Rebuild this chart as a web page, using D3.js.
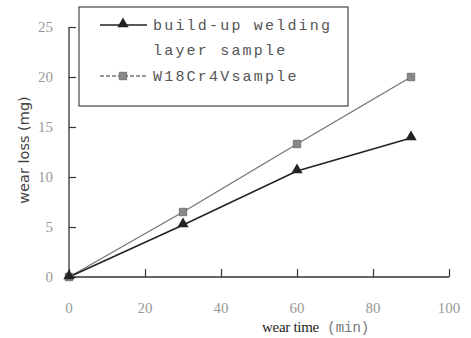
<!DOCTYPE html>
<html>
<head>
<meta charset="utf-8">
<script src="https://cdn.jsdelivr.net/npm/d3@7"></script>
<style>
  body { margin: 0; background: #fff; }
</style>
</head>
<body>
<div id="svg-container"></div>
<script>
// data
const times = [0, 30, 60, 90];
const weldingLoss = [0, 5.2, 10.6, 13.9];
const w18Loss = [0, 6.5, 13.3, 20.0];
const xTicks = [0, 20, 40, 60, 80, 100];
const yTicks = [0, 5, 10, 15, 20, 25];
const yTickLabels = ["0", "5", "10", "15", "20", "25"];
const seriesNames = ["build-up welding", "layer sample", "W18Cr4Vsample"];

const width = 471, height = 338;

const svg = d3.select("#svg-container").append("svg")
  .attr("width", width)
  .attr("height", height);

// scales
const x = d3.scaleLinear().domain([0, 100]).range([69, 449]);
const y = d3.scaleLinear().domain([0, 25]).range([277, 27]);

// x axis, ticks point inward
const xAxis = svg.append("g")
  .attr("transform", `translate(0,${y(0)})`)
  .call(d3.axisTop(x).tickValues(xTicks).tickSize(8).tickFormat(""));
xAxis.select(".domain").attr("stroke", "#333").attr("stroke-width", 1.3).attr("d", `M${x(0)},0H${x(100)}`);
xAxis.selectAll(".tick line").attr("stroke", "#333").attr("stroke-width", 1.2);

// y axis, ticks point inward
const yAxis = svg.append("g")
  .attr("transform", `translate(${x(0)},0)`)
  .call(d3.axisRight(y).tickValues(yTicks).tickSize(7).tickFormat(""));
yAxis.select(".domain").attr("stroke", "#333").attr("stroke-width", 1.3).attr("d", `M0,${y(25)}V${y(0)}`);
yAxis.selectAll(".tick line").attr("stroke", "#333").attr("stroke-width", 1.2);

// tick labels (light grey)
svg.append("g").selectAll("text")
  .data(xTicks)
  .join("text")
  .attr("x", d => x(d))
  .attr("y", 313)
  .attr("text-anchor", "middle")
  .attr("font-family", "Liberation Serif, serif")
  .attr("font-size", 15)
  .attr("fill", "#999")
  .text(d => d);

svg.append("g").selectAll("text")
  .data(yTicks)
  .join("text")
  .attr("x", 53)
  .attr("y", d => y(d) + 5)
  .attr("text-anchor", "end")
  .attr("font-family", "Liberation Serif, serif")
  .attr("font-size", 15)
  .attr("fill", "#999")
  .text((d, i) => yTickLabels[i]);

// axis titles
const xTitle = svg.append("text")
  .attr("x", 262)
  .attr("y", 332)
  .attr("font-size", 15);
xTitle.append("tspan")
  .attr("font-family", "Liberation Serif, serif")
  .attr("fill", "#222")
  .attr("letter-spacing", -0.3)
  .text("wear time");
xTitle.append("tspan")
  .attr("font-family", "Liberation Mono, monospace")
  .attr("fill", "#777")
  .attr("font-size", 14)
  .text(" (min)");

svg.append("text")
  .attr("transform", `translate(29,150) rotate(-90)`)
  .attr("text-anchor", "middle")
  .attr("font-family", "DejaVu Sans, sans-serif")
  .attr("font-size", 14.5)
  .attr("fill", "#444")
  .text("wear loss (mg)");

// lines
const line = d3.line()
  .x((d, i) => x(times[i]))
  .y(d => y(d));

svg.append("path")
  .datum(w18Loss)
  .attr("fill", "none")
  .attr("stroke", "#777")
  .attr("stroke-width", 1.4)
  .attr("d", line);

svg.append("path")
  .datum(weldingLoss)
  .attr("fill", "none")
  .attr("stroke", "#222")
  .attr("stroke-width", 1.6)
  .attr("d", line);

// markers
const square = d3.symbol().type(d3.symbolSquare).size(55);
const triangle = d3.symbol().type(d3.symbolTriangle).size(55);

svg.append("g").selectAll("path")
  .data(w18Loss)
  .join("path")
  .attr("transform", (d, i) => `translate(${x(times[i])},${y(d)})`)
  .attr("d", square)
  .attr("fill", "#888")
  .attr("stroke", "#666")
  .attr("stroke-width", 0.8);

svg.append("g").selectAll("path")
  .data(weldingLoss)
  .join("path")
  .attr("transform", (d, i) => `translate(${x(times[i])},${y(d) - 1})`)
  .attr("d", triangle)
  .attr("fill", "#222");

// legend
const legend = svg.append("g");
legend.append("rect")
  .attr("x", 79)
  .attr("y", 7)
  .attr("width", 269)
  .attr("height", 99)
  .attr("fill", "#fff")
  .attr("stroke", "#444")
  .attr("stroke-width", 1.2);

legend.append("line")
  .attr("x1", 100).attr("x2", 147)
  .attr("y1", 25).attr("y2", 25)
  .attr("stroke", "#222").attr("stroke-width", 1.6);
legend.append("path")
  .attr("transform", "translate(123,24)")
  .attr("d", triangle)
  .attr("fill", "#222");

legend.append("line")
  .attr("x1", 100).attr("x2", 147)
  .attr("y1", 76).attr("y2", 76)
  .attr("stroke", "#777").attr("stroke-width", 1.4)
  .attr("stroke-dasharray", "4,2");
legend.append("path")
  .attr("transform", "translate(123,76)")
  .attr("d", square)
  .attr("fill", "#888")
  .attr("stroke", "#666")
  .attr("stroke-width", 0.8);

legend.selectAll("text.lab")
  .data(seriesNames)
  .join("text")
  .attr("class", "lab")
  .attr("x", 153)
  .attr("y", (d, i) => [30, 55, 81][i])
  .attr("font-family", "Liberation Mono, monospace")
  .attr("font-size", 15)
  .attr("letter-spacing", 2.2)
  .attr("fill", "#555")
  .text(d => d);
</script>
</body>
</html>
